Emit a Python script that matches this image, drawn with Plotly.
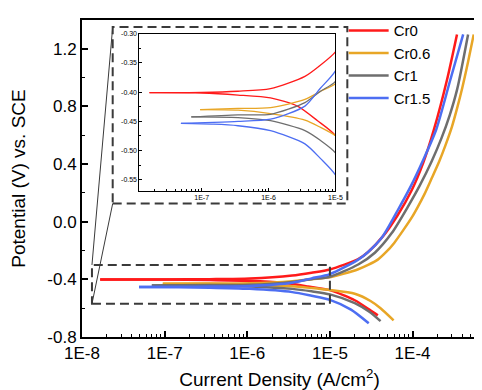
import math
import plotly.graph_objects as go

# ---------------- data ----------------
SERIES = ["Cr0", "Cr0.6", "Cr1", "Cr1.5"]
COLORS = ["#FF1A1A", "#E8A626", "#6E6E6E", "#4D6EF2"]

# anodic branches: current density (A/cm2) and potential (V vs. SCE)
CR0_ANO_I = [1.66e-8, 1.0e-7, 3.5e-7, 1.07e-6, 3.5e-6, 6.0e-6, 1.0e-5, 2.2e-5, 2.9e-5,
             4.4e-5, 6.6e-5, 9.8e-5, 1.35e-4, 1.82e-4, 2.6e-4, 3.45e-4]
CR0_ANO_E = [-0.401, -0.4005, -0.3985, -0.394, -0.373, -0.3535, -0.331, -0.26, -0.21,
             -0.10, 0.045, 0.22, 0.41, 0.642, 0.98, 1.30]
CR06_ANO_I = [9.5e-8, 3.5e-7, 1.07e-6, 3.5e-6, 6.0e-6, 1.0e-5, 1.45e-5, 2.2e-5, 2.9e-5,
              3.8e-5, 4.8e-5, 6.0e-5, 7.8e-5, 9.8e-5, 1.15e-4, 1.39e-4, 1.7e-4, 2.1e-4,
              2.5e-4, 3.0e-4, 3.47e-4, 4.0e-4, 4.7e-4, 5.5e-4]
CR06_ANO_E = [-0.430, -0.428, -0.4267, -0.4126, -0.3985, -0.3856, -0.362, -0.33, -0.30,
              -0.263, -0.21, -0.147, -0.055, 0.03, 0.10, 0.19, 0.30, 0.418,
              0.53, 0.66, 0.79, 0.93, 1.11, 1.30]
CR1_ANO_I = [7.0e-8, 3.5e-7, 1.07e-6, 3.5e-6, 6.0e-6, 1.0e-5, 2.2e-5, 3.5e-5, 5.6e-5,
             8.7e-5, 1.22e-4, 1.7e-4, 2.24e-4, 2.82e-4, 3.47e-4, 4.7e-4]
CR1_ANO_E = [-0.4425, -0.439, -0.438, -0.418, -0.3985, -0.3816, -0.297, -0.215, -0.079,
             0.10, 0.25, 0.418, 0.58, 0.74, 0.92, 1.30]
CR15_ANO_I = [4.9e-8, 1.5e-7, 3.5e-7, 1.07e-6, 3.5e-6, 6.0e-6, 1.0e-5, 2.2e-5, 2.9e-5,
              4.3e-5, 6.6e-5, 9.5e-5, 1.32e-4, 1.94e-4, 2.85e-4, 4.1e-4]
CR15_ANO_E = [-0.4537, -0.452, -0.4503, -0.4464, -0.424, -0.393, -0.3636, -0.263, -0.21,
              -0.106, 0.078, 0.245, 0.418, 0.642, 0.98, 1.30]

# cathodic branches
CR0_CAT_I = [1.66e-8, 1.0e-7, 3.5e-7, 1.07e-6, 2.7e-6, 5.4e-6, 1.0e-5, 2.0e-5, 3.0e-5, 3.8e-5]
CR0_CAT_E = [-0.401, -0.4015, -0.405, -0.410, -0.424, -0.449, -0.4745, -0.545, -0.61, -0.65]
CR06_CAT_I = [9.5e-8, 3.5e-7, 1.07e-6, 3.5e-6, 6.0e-6, 1.0e-5, 2.0e-5, 3.1e-5, 4.1e-5, 5.9e-5]
CR06_CAT_E = [-0.430, -0.431, -0.4368, -0.448, -0.4605, -0.4745, -0.50, -0.55, -0.60, -0.684]
CR1_CAT_I = [7.0e-8, 3.5e-7, 1.07e-6, 3.5e-6, 6.0e-6, 1.0e-5, 2.0e-5, 3.0e-5, 4.1e-5]
CR1_CAT_E = [-0.4425, -0.4436, -0.449, -0.466, -0.483, -0.504, -0.565, -0.625, -0.69]
CR15_CAT_I = [4.9e-8, 1.5e-7, 3.5e-7, 1.07e-6, 3.5e-6, 6.0e-6, 1.0e-5, 1.8e-5, 2.95e-5]
CR15_CAT_E = [-0.4537, -0.455, -0.4576, -0.466, -0.4886, -0.514, -0.542, -0.61, -0.705]

# tick labels
X_TICKS = [1e-8, 1e-7, 1e-6, 1e-5, 1e-4]
X_TICK_TEXT = ["1E-8", "1E-7", "1E-6", "1E-5", "1E-4"]
Y_TICKS = [-0.8, -0.4, 0.0, 0.4, 0.8, 1.2]
Y_TICK_TEXT = ["-0.8", "-0.4", "0.0", "0.4", "0.8", "1.2"]
INSET_X_TICKS = [1e-7, 1e-6, 1e-5]
INSET_X_TICK_TEXT = ["1E-7", "1E-6", "1E-5"]
INSET_Y_TICKS = [-0.55, -0.50, -0.45, -0.40, -0.35, -0.30]
INSET_Y_TICK_TEXT = ["-0.55", "-0.50", "-0.45", "-0.40", "-0.35", "-0.30"]

ANODIC = [(CR0_ANO_I, CR0_ANO_E), (CR06_ANO_I, CR06_ANO_E),
          (CR1_ANO_I, CR1_ANO_E), (CR15_ANO_I, CR15_ANO_E)]
CATHODIC = [(CR0_CAT_I, CR0_CAT_E), (CR06_CAT_I, CR06_CAT_E),
            (CR1_CAT_I, CR1_CAT_E), (CR15_CAT_I, CR15_CAT_E)]

# ---------------- layout constants ----------------
W, H = 482, 390
X_RANGE = [-8.0, -3.22]          # log10
Y_RANGE = [-0.8, 1.4]
INSET_X_RANGE = [-7.93, -5.0]    # log10
INSET_Y_RANGE = [-0.569, -0.30]
ZOOM_X = [1.32e-8, 1e-5]
ZOOM_Y = [-0.57, -0.30]
FONT = "Arial, Liberation Sans, sans-serif"
BOX_COLOR = "#3a3a3a"


def minor_log(lo, hi):
    return [m * 10.0 ** e for e in range(lo, hi) for m in range(2, 10)]


def px(v):
    return (math.log10(v) - X_RANGE[0]) / (X_RANGE[1] - X_RANGE[0])


def py(v):
    return (v - Y_RANGE[0]) / (Y_RANGE[1] - Y_RANGE[0])


fig = go.Figure()

for k, name in enumerate(SERIES):
    for axes, width in ((("x", "y"), 2.5), (("x2", "y2"), 1.3)):
        for j, (ci, ce) in enumerate((ANODIC[k], CATHODIC[k])):
            fig.add_trace(go.Scatter(
                x=ci, y=ce, mode="lines", name=name,
                line=dict(color=COLORS[k], width=width, shape="spline", smoothing=0.7),
                showlegend=(axes[0] == "x" and j == 0),
                xaxis=axes[0], yaxis=axes[1], hoverinfo="skip",
            ))

axis_common = dict(showline=True, linecolor="black", mirror=True, showgrid=False,
                   zeroline=False, ticks="inside", tickcolor="black")

fig.update_layout(
    width=W, height=H,
    margin=dict(l=74, r=9, t=6, b=61),
    paper_bgcolor="white", plot_bgcolor="white",
    font=dict(family=FONT, color="black"),
    xaxis=dict(type="log", range=X_RANGE, tickvals=X_TICKS, ticktext=X_TICK_TEXT,
               ticklen=6, tickwidth=1.5, linewidth=2,
               minor=dict(ticks="inside", tickvals=minor_log(-8, -3), ticklen=3,
                          tickwidth=1.2, tickcolor="black", showgrid=False),
               tickfont=dict(size=17),
               title=dict(text="Current Density (A/cm<sup>2</sup>)", font=dict(size=19),
                          standoff=10),
               **axis_common),
    yaxis=dict(range=Y_RANGE, tickvals=Y_TICKS, ticktext=Y_TICK_TEXT,
               ticklen=6, tickwidth=1.5, linewidth=2,
               minor=dict(ticks="inside", tickmode="linear", tick0=-0.8, dtick=0.2,
                          ticklen=3, tickwidth=1.2, tickcolor="black", showgrid=False),
               tickfont=dict(size=17),
               title=dict(text="Potential (V) vs. SCE", font=dict(size=19), standoff=17),
               **axis_common),
    xaxis2=dict(type="log", range=INSET_X_RANGE, domain=[0.1454, 0.6416], anchor="y2",
                tickvals=INSET_X_TICKS, ticktext=INSET_X_TICK_TEXT,
                ticklen=3, tickwidth=1, linewidth=1,
                minor=dict(ticks="inside", tickvals=minor_log(-8, -5), ticklen=2,
                           tickwidth=0.8, tickcolor="black", showgrid=False),
                tickfont=dict(size=7), **axis_common),
    yaxis2=dict(range=INSET_Y_RANGE, domain=[0.4613, 0.9567], anchor="x2",
                tickvals=INSET_Y_TICKS, ticktext=INSET_Y_TICK_TEXT,
                ticklen=3, tickwidth=1, linewidth=1,
                minor=dict(ticks="inside", tickmode="linear", tick0=-0.55, dtick=0.025,
                           ticklen=2, tickwidth=0.8, tickcolor="black", showgrid=False),
                tickfont=dict(size=7), **axis_common),
    legend=dict(x=0.6624, y=1.018, xanchor="left", yanchor="top", bgcolor="rgba(0,0,0,0)",
                font=dict(size=15), itemwidth=40, tracegroupgap=0),
    showlegend=True,
)

dash_line = dict(color=BOX_COLOR, width=2, dash="9px,5px")
thin_line = dict(color=BOX_COLOR, width=1)
INSET_BOX = [0.0777, 0.421, 0.6717, 0.978]
zx0, zx1 = px(ZOOM_X[0]), px(ZOOM_X[1])
zy0, zy1 = py(ZOOM_Y[0]), py(ZOOM_Y[1])

shapes = [
    dict(type="rect", xref="paper", yref="paper", x0=zx0, x1=zx1, y0=zy0, y1=zy1,
         line=dash_line),
    dict(type="rect", xref="paper", yref="paper", x0=INSET_BOX[0], x1=INSET_BOX[2],
         y0=INSET_BOX[1], y1=INSET_BOX[3], line=dash_line),
    dict(type="line", xref="paper", yref="paper", x0=INSET_BOX[0], y0=INSET_BOX[3],
         x1=zx0, y1=zy1, line=thin_line),
    dict(type="line", xref="paper", yref="paper", x0=INSET_BOX[0], y0=INSET_BOX[1],
         x1=zx0, y1=zy0, line=thin_line),
]
fig.update_layout(shapes=shapes)

fig.write_html("out.html")
